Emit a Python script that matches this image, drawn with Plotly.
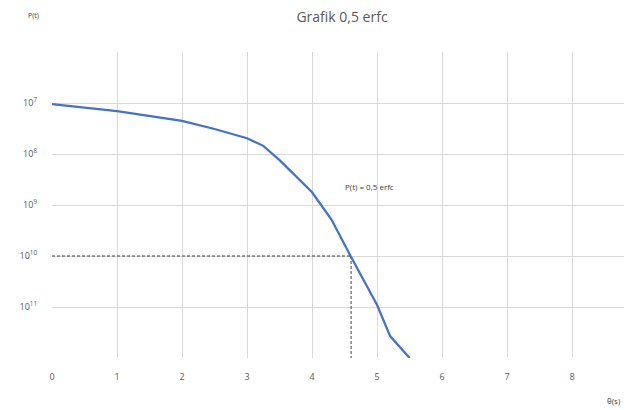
import plotly.graph_objects as go

# Data
t_vals = [0, 1, 2, 2.5, 3, 3.25, 3.5, 4, 4.3, 4.6, 5, 5.2, 5.5]
p_exp = [7.02, 7.16, 7.35, 7.51, 7.69, 7.84, 8.12, 8.75, 9.29, 10.02, 10.96, 11.57, 12.0]
p_vals = [10 ** e for e in p_exp]

marker_t = 4.6
marker_p = 1e10

x_ticks = list(range(0, 10))
y_tickvals = [1e6, 1e7, 1e8, 1e9, 1e10, 1e11, 1e12]
y_ticktext = ["", "10<sup>7</sup>", "10<sup>8</sup>", "10<sup>9</sup>",
              "10<sup>10</sup>", "10<sup>11</sup>", ""]

title_text = "Grafik 0,5 erfc"
curve_label = "P(t) = 0,5 erfc"
x_title = "θ(s)"
y_title = "P(t)"

blue = "#4472C4"
grid = "#D9D9D9"
txt = "#595959"
font_family = "Open Sans, Lato, sans-serif"

OFF = 8  # default page body margin
W, H = 624, 402
ML, MR, MT, MB = 44, 0, 44, 52
PW, PH = W - ML - MR, H - MT - MB


def screen_to_paper(sx, sy):
    fx, fy = sx - OFF, sy - OFF
    return (fx - ML) / PW, (H - MB - fy) / PH


fig = go.Figure()

# dashed guide lines
fig.add_trace(go.Scatter(x=[0, marker_t], y=[marker_p, marker_p], mode="lines",
                         line=dict(color="#404040", width=1, dash="3px,2px"),
                         hoverinfo="skip", showlegend=False))
fig.add_trace(go.Scatter(x=[marker_t, marker_t], y=[marker_p, 1e12], mode="lines",
                         line=dict(color="#404040", width=1, dash="3px,2px"),
                         hoverinfo="skip", showlegend=False))

fig.add_trace(go.Scatter(x=t_vals, y=p_vals, mode="lines",
                         line=dict(color=blue, width=2.25),
                         showlegend=False))

xt_x, xt_y = screen_to_paper(614, 400)
yt_x, yt_y = screen_to_paper(33, 16)

fig.update_layout(
    width=W, height=H,
    margin=dict(l=ML, r=MR, t=MT, b=MB, autoexpand=False),
    paper_bgcolor="white", plot_bgcolor="white",
    font=dict(family=font_family, color=txt, size=9),
    title=dict(text=title_text, x=0.5, xref="paper", y=(H - 9) / H,
               yref="container", yanchor="middle",
               font=dict(size=14, color=txt, family=font_family)),
    xaxis=dict(range=[0, 8.92], tickvals=x_ticks, showgrid=True, gridcolor=grid,
               gridwidth=1, zeroline=False, showline=False, ticks="",
               automargin=False,
               tickfont=dict(size=9, color=txt), ticklabelstandoff=12),
    yaxis=dict(type="log", range=[12, 6], tickvals=y_tickvals, ticktext=y_ticktext,
               showgrid=True, gridcolor=grid, gridwidth=1, zeroline=False,
               showline=False, ticks="", automargin=False,
               tickfont=dict(size=9, color=txt), ticklabelstandoff=14),
    annotations=[
        dict(text=curve_label, x=4.89, y=8.63, xref="x", yref="y", showarrow=False,
             xanchor="center", yanchor="middle",
             font=dict(size=8, color="#404040", family=font_family)),
        dict(text=x_title, x=xt_x, y=xt_y, xref="paper", yref="paper", showarrow=False,
             xanchor="center", yanchor="middle",
             font=dict(size=8, color="#404040", family=font_family)),
        dict(text=y_title, x=yt_x, y=yt_y, xref="paper", yref="paper", showarrow=False,
             xanchor="center", yanchor="middle",
             font=dict(size=7, color="#404040", family=font_family)),
    ],
)

fig.write_html("out.html")
